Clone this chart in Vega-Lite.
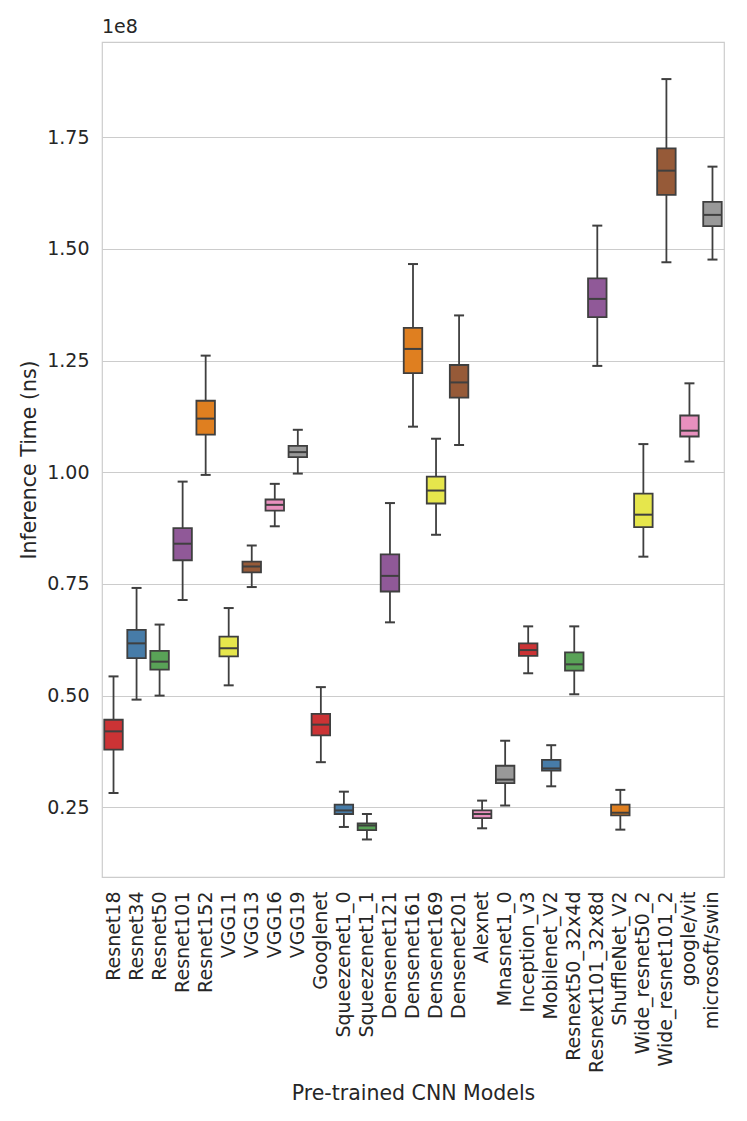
{
  "$schema": "https://vega.github.io/schema/vega-lite/v6.json",
  "autosize": {"type": "none"},
  "padding": {"left": 102, "top": 42, "right": 23, "bottom": 244},
  "width": 622,
  "height": 835,
  "background": "white",
  "config": {
    "font": "DejaVu Sans",
    "view": {"stroke": "#cccccc", "strokeWidth": 1.2},
    "axis": {"labelColor": "#262626", "titleColor": "#262626", "labelFont": "DejaVu Sans", "titleFont": "DejaVu Sans", "titleFontWeight": "normal"}
  },
  "title": {"text": "1e8", "anchor": "start", "frame": "group", "fontSize": 19, "fontWeight": "normal", "color": "#262626", "offset": 5},
  "data": {"values": [
    {"model": "Resnet18", "lo": 0.282, "q1": 0.379, "med": 0.420, "q3": 0.446, "hi": 0.543},
    {"model": "Resnet34", "lo": 0.491, "q1": 0.584, "med": 0.617, "q3": 0.647, "hi": 0.741},
    {"model": "Resnet50", "lo": 0.500, "q1": 0.558, "med": 0.576, "q3": 0.600, "hi": 0.659},
    {"model": "Resnet101", "lo": 0.714, "q1": 0.803, "med": 0.840, "q3": 0.875, "hi": 0.979},
    {"model": "Resnet152", "lo": 0.994, "q1": 1.084, "med": 1.120, "q3": 1.160, "hi": 1.261},
    {"model": "VGG11", "lo": 0.523, "q1": 0.588, "med": 0.606, "q3": 0.632, "hi": 0.696},
    {"model": "VGG13", "lo": 0.743, "q1": 0.776, "med": 0.789, "q3": 0.800, "hi": 0.836},
    {"model": "VGG16", "lo": 0.879, "q1": 0.914, "med": 0.927, "q3": 0.939, "hi": 0.974},
    {"model": "VGG19", "lo": 0.997, "q1": 1.034, "med": 1.045, "q3": 1.059, "hi": 1.095},
    {"model": "Googlenet", "lo": 0.351, "q1": 0.411, "med": 0.435, "q3": 0.459, "hi": 0.519},
    {"model": "Squeezenet1_0", "lo": 0.206, "q1": 0.235, "med": 0.243, "q3": 0.256, "hi": 0.285},
    {"model": "Squeezenet1_1", "lo": 0.178, "q1": 0.199, "med": 0.209, "q3": 0.214, "hi": 0.235},
    {"model": "Densenet121", "lo": 0.664, "q1": 0.733, "med": 0.768, "q3": 0.816, "hi": 0.931},
    {"model": "Densenet161", "lo": 1.102, "q1": 1.222, "med": 1.276, "q3": 1.323, "hi": 1.466},
    {"model": "Densenet169", "lo": 0.860, "q1": 0.930, "med": 0.959, "q3": 0.990, "hi": 1.075},
    {"model": "Densenet201", "lo": 1.061, "q1": 1.167, "med": 1.201, "q3": 1.240, "hi": 1.351},
    {"model": "Alexnet", "lo": 0.203, "q1": 0.226, "med": 0.235, "q3": 0.243, "hi": 0.265},
    {"model": "Mnasnet1_0", "lo": 0.254, "q1": 0.304, "med": 0.312, "q3": 0.343, "hi": 0.399},
    {"model": "Inception_v3", "lo": 0.550, "q1": 0.589, "med": 0.602, "q3": 0.617, "hi": 0.655},
    {"model": "Mobilenet_V2", "lo": 0.297, "q1": 0.332, "med": 0.337, "q3": 0.356, "hi": 0.389},
    {"model": "Resnext50_32x4d", "lo": 0.503, "q1": 0.556, "med": 0.570, "q3": 0.597, "hi": 0.655},
    {"model": "Resnext101_32x8d", "lo": 1.238, "q1": 1.347, "med": 1.388, "q3": 1.434, "hi": 1.552},
    {"model": "ShuffleNet_V2", "lo": 0.200, "q1": 0.232, "med": 0.238, "q3": 0.256, "hi": 0.289},
    {"model": "Wide_resnet50_2", "lo": 0.811, "q1": 0.877, "med": 0.905, "q3": 0.952, "hi": 1.063},
    {"model": "Wide_resnet101_2", "lo": 1.470, "q1": 1.621, "med": 1.675, "q3": 1.725, "hi": 1.880},
    {"model": "google/vit", "lo": 1.024, "q1": 1.080, "med": 1.093, "q3": 1.127, "hi": 1.199},
    {"model": "microsoft/swin", "lo": 1.476, "q1": 1.551, "med": 1.576, "q3": 1.605, "hi": 1.684}
  ]},
  "encoding": {
    "x": {
      "field": "model", "type": "nominal", "sort": null,
      "scale": {"type": "band", "paddingInner": 0, "paddingOuter": 0},
      "axis": {"title": "Pre-trained CNN Models", "titleFontSize": 20.5, "titlePadding": 11, "labelAngle": -90, "labelAlign": "right", "labelBaseline": "middle", "labelFontSize": 19, "labelPadding": 14, "labelLimit": 400, "labelOverlap": false, "ticks": false, "domain": false, "grid": false}
    }
  },
  "layer": [
    {
      "mark": {"type": "rule", "color": "#3f3f3f", "strokeWidth": 1.8},
      "encoding": {
        "y": {"field": "lo", "type": "quantitative",
          "scale": {"domain": [0.094, 1.963], "nice": false, "zero": false},
          "axis": {"title": "Inference Time (ns)", "titleFontSize": 20.5, "titlePadding": 7, "values": [0.25, 0.5, 0.75, 1.0, 1.25, 1.5, 1.75], "format": ".2f", "labelFontSize": 19, "labelPadding": 13, "ticks": false, "domain": false, "grid": true, "gridColor": "#cccccc", "gridWidth": 1.2}},
        "y2": {"field": "hi"}
      }
    },
    {
      "mark": {"type": "bar", "size": 18.5, "stroke": "#3f3f3f", "strokeWidth": 1.8},
      "encoding": {
        "y": {"field": "q1", "type": "quantitative"},
        "y2": {"field": "q3"},
        "fill": {"field": "model", "type": "nominal", "legend": null,
          "scale": {"domain": ["Resnet18","Resnet34","Resnet50","Resnet101","Resnet152","VGG11","VGG13","VGG16","VGG19","Googlenet","Squeezenet1_0","Squeezenet1_1","Densenet121","Densenet161","Densenet169","Densenet201","Alexnet","Mnasnet1_0","Inception_v3","Mobilenet_V2","Resnext50_32x4d","Resnext101_32x8d","ShuffleNet_V2","Wide_resnet50_2","Wide_resnet101_2","google/vit","microsoft/swin"],
            "range": ["#cb3335","#477ca8","#59a257","#905998","#df7f20","#e6e64c","#965a38","#e890be","#999999","#cb3335","#477ca8","#59a257","#905998","#df7f20","#e6e64c","#965a38","#e890be","#999999","#cb3335","#477ca8","#59a257","#905998","#df7f20","#e6e64c","#965a38","#e890be","#999999"]}}
      }
    },
    {
      "mark": {"type": "tick", "size": 18.5, "thickness": 2, "color": "#3f3f3f", "opacity": 1},
      "encoding": {"y": {"field": "med", "type": "quantitative"}}
    },
    {
      "mark": {"type": "tick", "size": 10, "thickness": 2, "color": "#3f3f3f", "opacity": 1},
      "encoding": {"y": {"field": "lo", "type": "quantitative"}}
    },
    {
      "mark": {"type": "tick", "size": 10, "thickness": 2, "color": "#3f3f3f", "opacity": 1},
      "encoding": {"y": {"field": "hi", "type": "quantitative"}}
    }
  ]
}
